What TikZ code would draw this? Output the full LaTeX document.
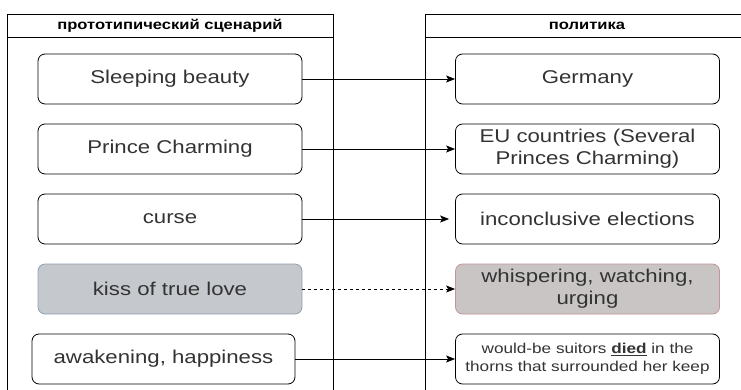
\documentclass[tikz,border=0pt]{standalone}
\usepackage{fontspec}
\setmainfont{Liberation Sans}[FakeStretch=1.2]
\usetikzlibrary{arrows.meta}
\definecolor{txt}{HTML}{333333}
\definecolor{kissfill}{HTML}{C5C8CC}
\definecolor{kissdraw}{HTML}{8FA0B4}
\definecolor{whfill}{HTML}{C9C5C5}
\definecolor{whdraw}{HTML}{C49494}
\tikzset{
  box/.style={draw=black, line width=0.8pt, rounded corners=7pt, minimum width=264pt, minimum height=50pt, inner sep=0pt, align=center, text=txt, font=\fontsize{18.5}{22}\selectfont},
  lane/.style={draw=black, line width=0.8pt},
  hdr/.style={font=\bfseries\fontsize{13.8}{16}\selectfont, text=black},
  link/.style={draw=black, line width=0.8pt, -{Stealth[length=9pt,width=7pt,inset=2pt]}},
}
\begin{document}
\begin{tikzpicture}[x=1pt,y=-1pt]
\useasboundingbox (0,0) rectangle (741,390);
\clip (0,0) rectangle (741,390);
% lanes
\draw[lane] (7,400) -- (7,14) -- (333,14) -- (333,400);
\draw[lane] (7,37) -- (333,37);
\draw[lane] (425.5,400) -- (425.5,14) -- (745,14);
\draw[lane] (425.5,37) -- (745,37);
\node[hdr] (h1) at (170,25.5) {прототипический сценарий};
\node[hdr] (h2) at (587,25.5) {политика};
% left boxes
\node[box] (a1) at (170,79) {Sleeping beauty};
\node[box] (a2) at (170,149) {Prince Charming};
\node[box] (a3) at (170,219) {curse};
\node[box, fill=kissfill, draw=kissdraw] (a4) at (170,289) {kiss of true love};
\node[box, minimum width=263pt] (a5) at (163.5,359) {awakening, happiness};
% right boxes
\node[box] (b1) at (587.5,79) {Germany};
\node[box] (b2) at (587.5,149) {EU countries (Several\\Princes Charming)};
\node[box] (b3) at (587.5,219) {inconclusive elections};
\node[box, fill=whfill, draw=whdraw] (b4) at (587.5,289) {whispering, watching,\\urging};
\node[box, font=\fontsize{14.3}{18}\selectfont] (b5) at (587.5,359) {would-be suitors \underline{\textbf{died}} in the\\thorns that surrounded her keep};
% links
\draw[link] (a1) -- (b1);
\draw[link] (a2) -- (b2);
\draw[link, shorten >=6pt] (a3) -- (b3);
\draw[link, dashed] (a4) -- (b4);
\draw[link] (a5) -- (a5 -| b5.west);
\end{tikzpicture}
\end{document}
